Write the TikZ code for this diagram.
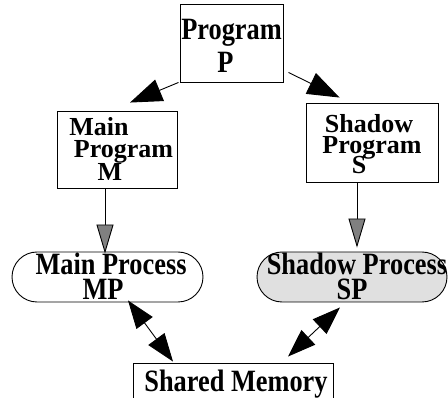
\documentclass[tikz,border=0pt]{standalone}
\usepackage{fontspec}
\newfontfamily\figfont{Liberation Serif}[FakeStretch=0.85]
\newfontfamily\figfontb{Liberation Serif}
\usetikzlibrary{arrows.meta,calc}
\begin{document}
\begin{tikzpicture}[x=1pt,y=-1pt,
  box/.style={draw=black,line width=0.9pt,rectangle,inner sep=0pt},
  proc/.style={draw=black,line width=0.9pt,rectangle,rounded corners=25pt,inner sep=0pt,minimum height=50pt},
  txt/.style={anchor=base,align=center,inner sep=0pt},
  lead/.style={font=\figfont\bfseries\fontsize{31}{#1}\selectfont},
  leadb/.style={font=\figfontb\bfseries\fontsize{26}{#1}\selectfont},
  conn/.style={line width=0.9pt},
  bighead/.style={conn,-{Triangle[length=32pt,width=23pt]}},
  dbl/.style={conn,{Triangle[length=28pt,width=20pt]}-{Triangle[length=28pt,width=20pt]}},
  grayhead/.style={conn,-{Triangle[length=29pt,width=17pt,color=black,fill=black!50]}}
]
\useasboundingbox (0,0) rectangle (448,398);
\fill[white] (0,0) rectangle (448,398);
% boxes
\node[box,minimum width=103pt,minimum height=78pt] (p) at (231.5,43) {};
\node[box,minimum width=120pt,minimum height=77pt] (m) at (117,149.5) {};
\node[box,minimum width=132pt,minimum height=79pt] (s) at (372,142.5) {};
\node[proc,minimum width=191pt] (mp) at (107.5,277) {};
\node[proc,minimum width=190pt,fill=black!12] (sp) at (352,277) {};
\node[box,minimum width=200pt,minimum height=52pt] (sm) at (233,389) {};
% texts
\node[txt,lead=33] (pt) at (231.5,73) {Program\\P\hspace*{12pt}};
\node[txt,leadb=21.5] (mt) at (117,181) {Main\hspace*{36pt}\\\hspace*{13pt}Program\\M\hspace*{14pt}};
\node[txt,leadb=21] (st) at (372,174) {Shadow\hspace*{6pt}\\Program\\[-3pt]S\hspace*{26pt}};
\node[txt,lead=25] (mpt) at (107.5,300) {\hspace*{7pt}Main Process\\MP\hspace*{9pt}};
\node[txt,lead=25] (spt) at (352,300) {\hspace*{10pt}Shadow Process\\SP};
\node[txt,lead=31] (smt) at (236,392) {Shared Memory};
% connectors
\draw[bighead] ($(p.south west)+(-1,0)$) -- ($(m.north)+(13,-8)$);
\draw[bighead] ($(p.south east)+(5,-10)$) -- ($(s.north west)+(34,-5)$);
\draw[grayhead] ($(m.south)+(-12,0)$) -- ($(mp.north)+(-2.5,2)$);
\draw[grayhead] ($(s.south)+(-15,0)$) -- ($(sp.north)+(5,-4)$);
\draw[dbl] ($(mp.south)+(20.5,-2)$) -- ($(sm.north)+(-60,-1)$);
\draw[dbl] ($(sp.south)+(-12,5)$) -- ($(sm.north)+(55,-6)$);
\end{tikzpicture}
\end{document}
